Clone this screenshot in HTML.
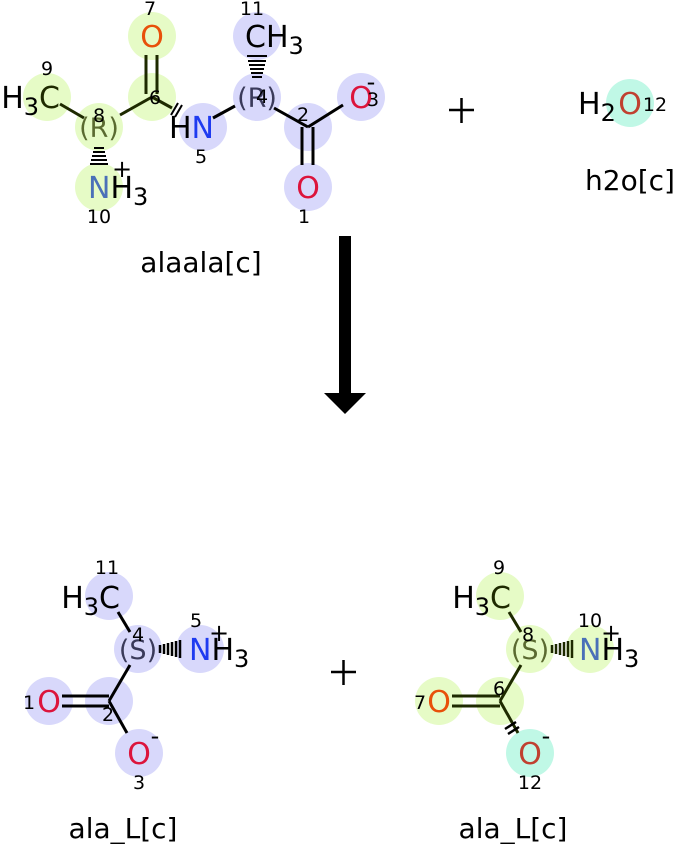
<!DOCTYPE html>
<html><head><meta charset="utf-8"><style>
html,body{margin:0;padding:0;background:#fff;}
svg{display:block;font-family:"DejaVu Sans","Liberation Sans",sans-serif;}
</style></head><body>
<svg width="677" height="844" viewBox="0 0 677 844" xmlns="http://www.w3.org/2000/svg">
<g stroke="none">
<circle cx="152" cy="36" r="24" fill="#e6fbc6"/>
<circle cx="152" cy="97" r="24" fill="#e6fbc6"/>
<circle cx="99" cy="127" r="24" fill="#e6fbc6"/>
<circle cx="47" cy="97" r="24" fill="#e6fbc6"/>
<circle cx="99" cy="187" r="24" fill="#e6fbc6"/>
<circle cx="203" cy="127" r="24" fill="#d8d8fb"/>
<circle cx="257" cy="97" r="24" fill="#d8d8fb"/>
<circle cx="257" cy="36" r="24" fill="#d8d8fb"/>
<circle cx="308" cy="127" r="24" fill="#d8d8fb"/>
<circle cx="361" cy="97" r="24" fill="#d8d8fb"/>
<circle cx="308" cy="187" r="24" fill="#d8d8fb"/>
<circle cx="630" cy="103" r="24" fill="#c0f8e6"/>
<circle cx="109" cy="596" r="24" fill="#d8d8fb"/>
<circle cx="138" cy="649" r="24" fill="#d8d8fb"/>
<circle cx="200" cy="649" r="24" fill="#d8d8fb"/>
<circle cx="109" cy="701" r="24" fill="#d8d8fb"/>
<circle cx="49" cy="701" r="24" fill="#d8d8fb"/>
<circle cx="139" cy="753" r="24" fill="#d8d8fb"/>
<circle cx="500" cy="596" r="24" fill="#e6fbc6"/>
<circle cx="530" cy="649" r="24" fill="#e6fbc6"/>
<circle cx="590" cy="649" r="24" fill="#e6fbc6"/>
<circle cx="500" cy="701" r="24" fill="#e6fbc6"/>
<circle cx="439" cy="701" r="24" fill="#e6fbc6"/>
<circle cx="530" cy="753" r="24" fill="#c0f8e6"/>
</g>
<g stroke="#000" stroke-width="3" fill="none">
<line x1="60" y1="104" x2="84" y2="118" stroke="#1e2a00"/>
<line x1="120" y1="115" x2="152" y2="97" stroke="#1e2a00"/>
<line x1="146" y1="94" x2="146" y2="55" stroke="#1e2a00"/>
<line x1="157" y1="94" x2="157" y2="55" stroke="#1e2a00"/>
<line x1="152" y1="97" x2="172" y2="108" stroke="#1e2a00"/>
<line x1="213" y1="118" x2="235" y2="106"/>
<line x1="274" y1="108" x2="308" y2="127"/>
<line x1="308" y1="127" x2="343" y2="105"/>
<line x1="302" y1="127" x2="302" y2="165"/>
<line x1="313" y1="127" x2="313" y2="165"/>
</g>
<g stroke="#000" stroke-width="2">
<line x1="171" y1="115" x2="178" y2="103"/><line x1="175" y1="117" x2="182" y2="105"/>
<line x1="94" y1="148" x2="104" y2="148"/><line x1="93" y1="152" x2="105" y2="152"/><line x1="92" y1="156" x2="106" y2="156"/><line x1="91" y1="160" x2="107" y2="160"/><line x1="90" y1="164" x2="108" y2="164"/>
<line x1="252" y1="77" x2="262" y2="77"/><line x1="251" y1="73" x2="263" y2="73"/><line x1="250" y1="69" x2="264" y2="69"/><line x1="249" y1="65" x2="265" y2="65"/><line x1="248" y1="61" x2="266" y2="61"/><line x1="247" y1="56" x2="267" y2="56"/>
</g>
<g stroke="#000" stroke-width="3">
<line x1="118" y1="612" x2="130" y2="632"/>
<line x1="130" y1="665" x2="109" y2="701"/>
<line x1="109" y1="701" x2="127" y2="733"/>
<line x1="62" y1="696" x2="109" y2="696"/>
<line x1="62" y1="706" x2="109" y2="706"/>
</g>
<g stroke="#000" stroke-width="2.5">
<line x1="160" y1="645" x2="160" y2="653"/><line x1="164" y1="644" x2="164" y2="654"/><line x1="168" y1="643" x2="168" y2="655"/><line x1="172" y1="642" x2="172" y2="656"/><line x1="176" y1="641" x2="176" y2="657"/><line x1="180" y1="640" x2="180" y2="658"/>
</g>
<g stroke="#1e2a00" stroke-width="3">
<line x1="509" y1="612" x2="521" y2="632"/>
<line x1="521" y1="665" x2="500" y2="701"/>
<line x1="500" y1="701" x2="518" y2="733"/>
<line x1="452" y1="696" x2="500" y2="696"/>
<line x1="452" y1="706" x2="500" y2="706"/>
</g>
<g stroke="#1e2a00" stroke-width="2.5">
<line x1="552" y1="645" x2="552" y2="653"/><line x1="556" y1="644" x2="556" y2="654"/><line x1="560" y1="643" x2="560" y2="655"/><line x1="564" y1="642" x2="564" y2="656"/><line x1="568" y1="641" x2="568" y2="657"/><line x1="572" y1="640" x2="572" y2="658"/>
<line x1="505" y1="729" x2="516" y2="722" stroke="#000"/><line x1="508" y1="734" x2="519" y2="727" stroke="#000"/>
</g>
<rect x="339" y="236" width="12" height="160" fill="#000"/>
<polygon points="324,393 366,393 345,414" fill="#000"/>
<g stroke="#000" stroke-width="2.5">
<line x1="449" y1="110" x2="474" y2="110"/><line x1="461.5" y1="98" x2="461.5" y2="123"/>
<line x1="331" y1="672" x2="356" y2="672"/><line x1="343.5" y1="660" x2="343.5" y2="685"/>
</g>
<g font-size="30">
<text x="152" y="47" fill="#e8500a" text-anchor="middle">O</text>
<text x="60" y="108" fill="#000" text-anchor="end"><tspan>H</tspan><tspan font-size="24" dy="7">3</tspan><tspan dy="-7" fill="#1e2a00">C</tspan></text>
<text x="99" y="137" fill="#5a6a30" text-anchor="middle" font-size="27">(R)</text>
<text x="88" y="198"><tspan fill="#4a70b8">N</tspan><tspan fill="#000">H</tspan><tspan font-size="24" dy="7">3</tspan></text>
<text x="214" y="138" text-anchor="end"><tspan fill="#000">H</tspan><tspan fill="#1f3bf0">N</tspan></text>
<text x="257" y="107" fill="#3a3a5a" text-anchor="middle" font-size="27">(R)</text>
<text x="245" y="47"><tspan fill="#000">CH</tspan><tspan font-size="24" dy="7">3</tspan></text>
<text x="361" y="108" fill="#dc143c" text-anchor="middle">O</text>
<text x="308" y="198" fill="#dc143c" text-anchor="middle">O</text>
<text x="578" y="114"><tspan fill="#000">H</tspan><tspan font-size="24" dy="7">2</tspan></text>
<text x="630" y="114" fill="#c04030" text-anchor="middle">O</text>
</g>
<g font-size="19" fill="#000" text-anchor="middle">
<text x="150" y="15">7</text>
<text x="47" y="75">9</text>
<text x="99" y="122">8</text>
<text x="155" y="104">6</text>
<text x="252" y="15">11</text>
<text x="262" y="103">4</text>
<text x="303" y="121">2</text>
<text x="373" y="106">3</text>
<text x="201" y="163">5</text>
<text x="99" y="223">10</text>
<text x="304" y="223">1</text>
<text x="655" y="111">12</text>
</g>
<g font-size="24" fill="#000" text-anchor="middle">
<text x="122" y="177">+</text>
<text x="371" y="90">-</text>
</g>
<g font-size="30">
<text x="120" y="608" text-anchor="end"><tspan fill="#000">H</tspan><tspan font-size="24" dy="7">3</tspan><tspan dy="-7">C</tspan></text>
<text x="138" y="659" fill="#3a3a5a" text-anchor="middle" font-size="27">(S)</text>
<text x="189" y="660"><tspan fill="#1f3bf0">N</tspan><tspan fill="#000">H</tspan><tspan font-size="24" dy="7">3</tspan></text>
<text x="49" y="712" fill="#dc143c" text-anchor="middle">O</text>
<text x="139" y="764" fill="#dc143c" text-anchor="middle">O</text>
<text x="511" y="608" text-anchor="end"><tspan fill="#000">H</tspan><tspan font-size="24" dy="7">3</tspan><tspan dy="-7" fill="#1e2a00">C</tspan></text>
<text x="530" y="659" fill="#5a6a30" text-anchor="middle" font-size="27">(S)</text>
<text x="579" y="660"><tspan fill="#4a70b8">N</tspan><tspan fill="#000">H</tspan><tspan font-size="24" dy="7">3</tspan></text>
<text x="439" y="712" fill="#e8500a" text-anchor="middle">O</text>
<text x="530" y="764" fill="#c04030" text-anchor="middle">O</text>
</g>
<g font-size="19" fill="#000" text-anchor="middle">
<text x="107" y="574">11</text>
<text x="138" y="641">4</text>
<text x="196" y="627">5</text>
<text x="29" y="709">1</text>
<text x="108" y="721">2</text>
<text x="139" y="789">3</text>
<text x="499" y="574">9</text>
<text x="528" y="641">8</text>
<text x="590" y="627">10</text>
<text x="420" y="709">7</text>
<text x="499" y="695">6</text>
<text x="530" y="789">12</text>
</g>
<g font-size="24" fill="#000" text-anchor="middle">
<text x="219" y="641">+</text>
<text x="155" y="744">-</text>
<text x="611" y="641">+</text>
<text x="546" y="744">-</text>
</g>
<g font-size="28" fill="#000" text-anchor="middle">
<text x="201" y="272">alaala[c]</text>
<text x="630" y="190">h2o[c]</text>
<text x="123" y="838">ala_L[c]</text>
<text x="513" y="838">ala_L[c]</text>
</g>
</svg>
</body></html>
